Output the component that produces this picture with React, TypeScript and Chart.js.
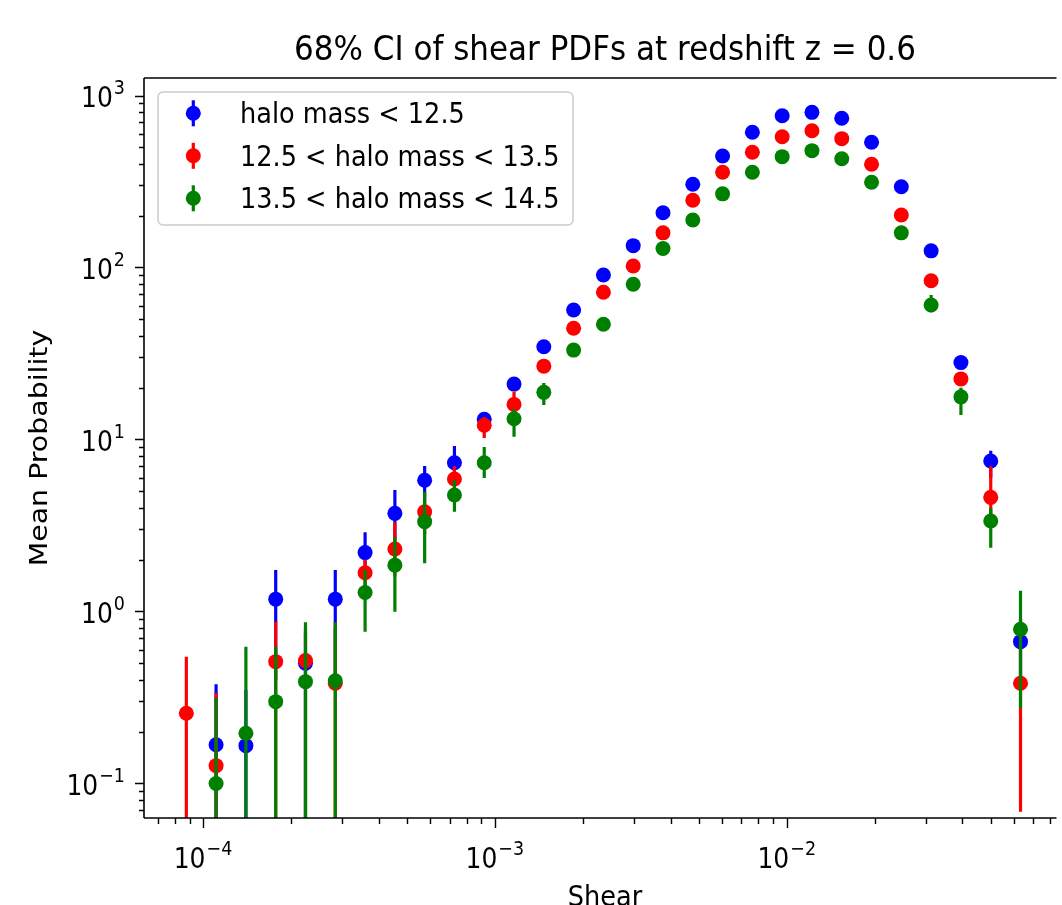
import { useEffect, useRef } from 'react';
import { Chart, registerables } from 'chart.js';
Chart.register(...registerables);

// ---------- data ----------
const shear = [
  8.77e-5, 1.109e-4, 1.403e-4, 1.775e-4, 2.245e-4, 2.84e-4, 3.593e-4, 4.545e-4, 5.748e-4, 7.271e-4,
  9.198e-4, 1.1635e-3, 1.4718e-3, 1.8617e-3, 2.355e-3, 2.979e-3, 3.768e-3, 4.767e-3, 6.03e-3, 7.627e-3,
  9.649e-3, 1.2205e-2, 1.5439e-2, 1.953e-2, 2.47e-2, 3.125e-2, 3.953e-2, 5.001e-2, 6.325e-2,
];

const blueMean = [null, 0.168, 0.166, 1.18, 0.5, 1.18, 2.2, 3.72, 5.8, 7.33, 13.1, 21.0, 34.6, 56.6, 90.4, 134, 208, 305, 445, 611, 763, 798, 737, 535, 295, 125, 28.0, 7.5, 0.668];
const blueLo = [null, 0.01, 0.01, 0.4, 0.01, 0.4, 1.6, 2.6, 4.5, 6.0, 11.5, null, null, null, null, null, null, null, null, null, null, null, null, null, null, null, null, 6.0, 0.4];
const blueHi = [null, 0.377, 0.35, 1.74, 0.75, 1.74, 2.89, 5.09, 7.01, 9.17, 14.0, null, null, null, null, null, null, null, null, null, null, null, null, null, null, null, null, 8.61, 0.9];

const redMean = [0.256, 0.127, null, 0.511, 0.518, 0.383, 1.68, 2.31, 3.8, 5.89, 12.1, 16.0, 26.7, 44.3, 71.8, 102, 159, 246, 358, 468, 576, 624, 561, 398, 202, 83.8, 22.5, 4.61, 0.383];
const redLo = [0.01, 0.01, null, 0.01, 0.01, 0.01, 1.2, 1.6, 2.8, 5.0, 10.2, 14.0, null, null, null, null, null, null, null, null, null, null, null, null, null, null, null, 3.5, 0.0686];
const redHi = [0.546, 0.336, null, 0.872, 0.8, 0.8, 2.0, 3.3, 4.5, 7.0, 13.5, 19.0, null, null, null, null, null, null, null, null, null, null, null, null, null, null, null, 7.0, 0.9];

const greenMean = [null, 0.1, 0.196, 0.299, 0.391, 0.396, 1.29, 1.86, 3.33, 4.76, 7.33, 13.2, 18.8, 33.1, 46.8, 79.9, 129, 189, 268, 358, 441, 478, 429, 313, 159, 60.5, 17.7, 3.36, 0.788];
const greenLo = [null, 0.01, 0.01, 0.01, 0.01, 0.01, 0.763, 0.997, 1.906, 3.8, 5.97, 10.38, 15.87, null, null, null, null, null, null, null, null, null, null, null, null, 55, 13.88, 2.35, 0.274];
const greenHi = [null, 0.314, 0.624, 0.624, 0.865, 0.865, 1.75, 2.7, 4.97, 5.8, 9.04, 15.0, 21.3, null, null, null, null, null, null, null, null, null, null, null, null, 69.2, 20.0, 4.0, 1.32];

const seriesLabels = ['halo mass < 12.5', '12.5 < halo mass < 13.5', '13.5 < halo mass < 14.5'];
const seriesColors = ['#0000ff', '#ff0000', '#008000'];

const xMajorExp = [-4, -3, -2];
const yMajorExp = [-1, 0, 1, 2, 3];
const X_MIN = 6.28e-5, X_MAX = 0.0827;
const Y_MIN = 0.063, Y_MAX = 1264;

const titleText = '68% CI of shear PDFs at redshift z = 0.6';
const xLabel = 'Shear';
const yLabel = 'Mean Probability';

// ---------- drawing helpers ----------
const FONT = '"DejaVu Sans", "Noto Sans", sans-serif';
const SY = 1.11; // vertical stretch of the reference's text

function txt(ctx: CanvasRenderingContext2D, s: string, x: number, y: number, size: number,
  align: CanvasTextAlign, baseline: CanvasTextBaseline, rot = false) {
  ctx.save();
  ctx.translate(x, y);
  ctx.scale(1, SY);
  if (rot) ctx.rotate(-Math.PI / 2);
  ctx.font = `${size}px ${FONT}`;
  ctx.textAlign = align;
  ctx.textBaseline = baseline;
  ctx.fillStyle = '#000';
  ctx.fillText(s, 0, 0);
  ctx.restore();
}

function pow10(ctx: CanvasRenderingContext2D, exp: number, x: number, y: number, align: 'right' | 'center') {
  const base = 25, sup = 17.5;
  const expStr = exp < 0 ? '\u2212' + String(-exp) : String(exp);
  ctx.font = `${base}px ${FONT}`;
  const w10 = ctx.measureText('10').width;
  ctx.font = `${sup}px ${FONT}`;
  const wS = ctx.measureText(expStr).width;
  const total = w10 + 1 + wS;
  const start = align === 'right' ? x - total : x - total / 2;
  txt(ctx, '10', start, y, base, 'left', 'alphabetic');
  txt(ctx, expStr, start + w10 + 1, y - 13, sup, 'left', 'alphabetic');
}

function minorTicks(min: number, max: number) {
  const out: number[] = [];
  for (let e = Math.floor(Math.log10(min)); e <= Math.ceil(Math.log10(max)); e++) {
    for (let m = 2; m <= 9; m++) {
      const v = m * Math.pow(10, e);
      if (v >= min && v <= max) out.push(v);
    }
  }
  return out;
}

const errorBarPlugin = {
  id: 'errorBars',
  beforeDatasetDraw(chart: any, args: any) {
    const ds = chart.data.datasets[args.index];
    const { ctx, chartArea: a } = chart;
    const xs = chart.scales.x, ys = chart.scales.y;
    ctx.save();
    ctx.beginPath();
    ctx.rect(a.left, a.top, a.right - a.left, a.bottom - a.top);
    ctx.clip();
    ctx.strokeStyle = ds.backgroundColor;
    ctx.lineWidth = 3.2;
    ctx.beginPath();
    for (const p of ds.data) {
      if (p.lo == null || p.hi == null) continue;
      const px = xs.getPixelForValue(p.x);
      ctx.moveTo(px, ys.getPixelForValue(p.hi));
      ctx.lineTo(px, ys.getPixelForValue(p.lo));
    }
    ctx.stroke();
    ctx.restore();
  },
};

const decorPlugin = {
  id: 'decor',
  afterDraw(chart: any) {
    const { ctx, chartArea: a } = chart;
    const xs = chart.scales.x, ys = chart.scales.y;
    ctx.save();
    // spines
    ctx.strokeStyle = '#000';
    ctx.lineWidth = 1.6;
    ctx.beginPath();
    ctx.moveTo(a.left, a.top); ctx.lineTo(a.right + 2, a.top);
    ctx.moveTo(a.left, a.top); ctx.lineTo(a.left, a.bottom);
    ctx.moveTo(a.left, a.bottom); ctx.lineTo(a.right + 2, a.bottom);
    ctx.stroke();

    // x ticks
    ctx.lineWidth = 1.4;
    ctx.beginPath();
    for (const e of xMajorExp) {
      const px = Math.round(xs.getPixelForValue(Math.pow(10, e))) + 0.5;
      ctx.moveTo(px, a.bottom); ctx.lineTo(px, a.bottom + 10);
    }
    for (const v of minorTicks(X_MIN, X_MAX)) {
      const px = Math.round(xs.getPixelForValue(v)) + 0.5;
      ctx.moveTo(px, a.bottom); ctx.lineTo(px, a.bottom + 6);
    }
    // y ticks
    for (const e of yMajorExp) {
      const py = Math.round(ys.getPixelForValue(Math.pow(10, e))) + 0.5;
      ctx.moveTo(a.left, py); ctx.lineTo(a.left - 9, py);
    }
    for (const v of minorTicks(Y_MIN, Y_MAX)) {
      const py = Math.round(ys.getPixelForValue(v)) + 0.5;
      ctx.moveTo(a.left, py); ctx.lineTo(a.left - 5, py);
    }
    ctx.stroke();

    // tick labels
    for (const e of xMajorExp) {
      pow10(ctx, e, xs.getPixelForValue(Math.pow(10, e)), a.bottom + 50, 'center');
    }
    for (const e of yMajorExp) {
      pow10(ctx, e, a.left - 19, ys.getPixelForValue(Math.pow(10, e)) + 11.5, 'right');
    }

    // title & axis labels
    txt(ctx, titleText, 605, 60, 31, 'center', 'alphabetic');
    txt(ctx, xLabel, 605, 906, 25.6, 'center', 'alphabetic');
    txt(ctx, yLabel, 47, 448, 25.6, 'center', 'alphabetic', true);

    // legend
    const lx = 158, ly = 92, lw = 415, lh = 133, r = 5;
    ctx.beginPath();
    ctx.moveTo(lx + r, ly);
    ctx.arcTo(lx + lw, ly, lx + lw, ly + lh, r);
    ctx.arcTo(lx + lw, ly + lh, lx, ly + lh, r);
    ctx.arcTo(lx, ly + lh, lx, ly, r);
    ctx.arcTo(lx, ly, lx + lw, ly, r);
    ctx.closePath();
    ctx.fillStyle = 'rgba(255,255,255,0.8)';
    ctx.fill();
    ctx.strokeStyle = '#cccccc';
    ctx.lineWidth = 1.5;
    ctx.stroke();
    seriesLabels.forEach((lab, i) => {
      const cy = 113.3 + i * 42.5;
      const cx = 193.3;
      ctx.strokeStyle = seriesColors[i];
      ctx.lineWidth = 3.2;
      ctx.beginPath();
      ctx.moveTo(cx, cy - 13); ctx.lineTo(cx, cy + 13);
      ctx.stroke();
      ctx.fillStyle = seriesColors[i];
      ctx.beginPath();
      ctx.arc(cx, cy, 7.5, 0, Math.PI * 2);
      ctx.fill();
      txt(ctx, lab, 240, cy + 10, 25.6, 'left', 'alphabetic');
    });
    ctx.restore();
  },
};

function makePoints(mean: (number | null)[], lo: (number | null)[], hi: (number | null)[]) {
  return shear
    .map((x, i) => ({ x, y: mean[i], lo: lo[i], hi: hi[i] }))
    .filter((p) => p.y != null);
}

export default function App() {
  const ref = useRef<HTMLCanvasElement>(null);
  useEffect(() => {
    const canvas = ref.current!;
    const means = [blueMean, redMean, greenMean];
    const los = [blueLo, redLo, greenLo];
    const his = [blueHi, redHi, greenHi];
    const chart = new Chart(canvas, {
      type: 'scatter',
      data: {
        datasets: seriesLabels.map((label, i) => ({
          label,
          data: makePoints(means[i], los[i], his[i]) as any,
          backgroundColor: seriesColors[i],
          borderColor: seriesColors[i],
          pointRadius: 7.5,
          pointBorderWidth: 0,
          pointHoverRadius: 7.5,
          showLine: false,
          order: 3 - i,
        })),
      },
      options: {
        responsive: false,
        animation: false,
        devicePixelRatio: 1,
        events: [],
        layout: { padding: { left: 144, top: 78, right: 0, bottom: 87 } },
        scales: {
          x: { type: 'logarithmic', min: X_MIN, max: X_MAX, display: false },
          y: { type: 'logarithmic', min: Y_MIN, max: Y_MAX, display: false },
        },
        plugins: {
          legend: { display: false },
          tooltip: { enabled: false },
          title: { display: false },
        },
      },
      plugins: [errorBarPlugin, decorPlugin],
    });
    return () => chart.destroy();
  }, []);
  return (
    <div style={{ position: 'absolute', left: 0, top: 0, width: 1062, height: 905, background: '#fff', overflow: 'hidden' }}>
      <canvas ref={ref} width={1062} height={905} style={{ display: 'block', width: 1062, height: 905 }} />
    </div>
  );
}
